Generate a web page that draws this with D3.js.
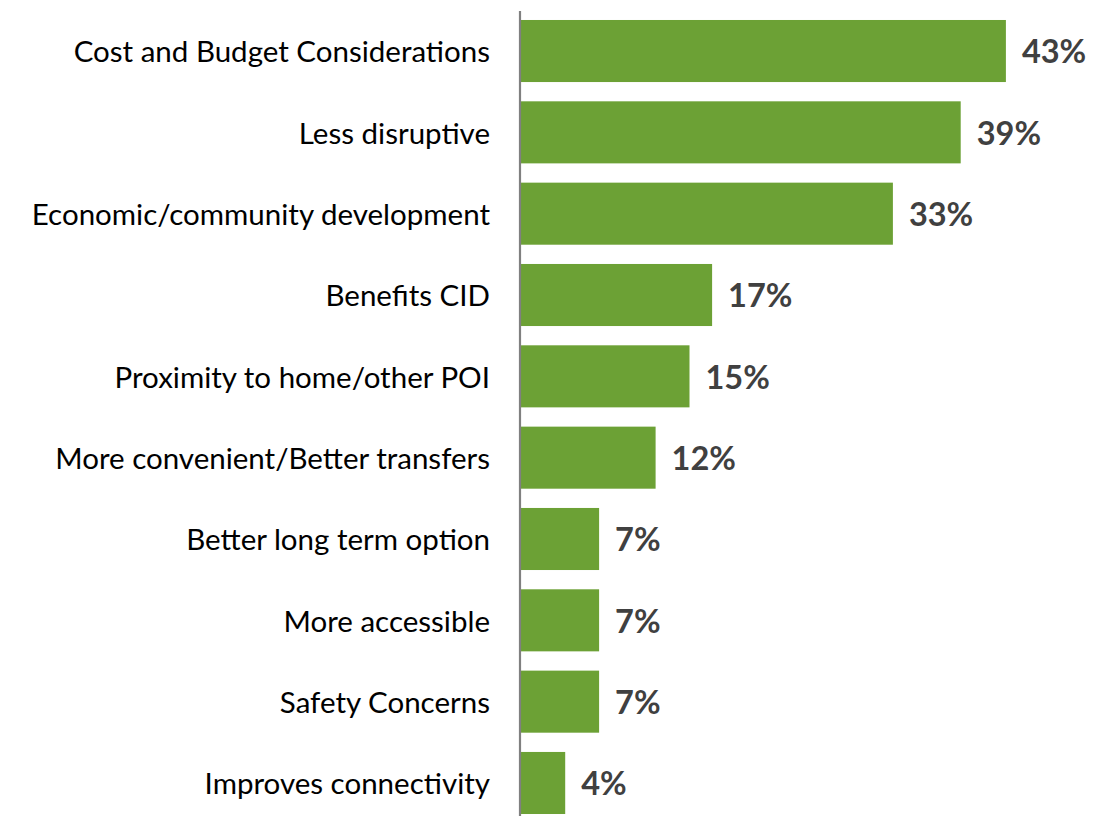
<!DOCTYPE html>
<html>
<head>
<meta charset="utf-8">
<script src="https://cdn.jsdelivr.net/npm/d3@7"></script>
<style>
  html, body { margin: 0; padding: 0; background: #fff; }
  svg { display: block; }
</style>
</head>
<body>
<svg id="chart" width="1111" height="816"></svg>
<script>
// Reasons cited, share of respondents (%)
const categories = [
  "Cost and Budget Considerations",
  "Less disruptive",
  "Economic/community development",
  "Benefits CID",
  "Proximity to home/other POI",
  "More convenient/Better transfers",
  "Better long term option",
  "More accessible",
  "Safety Concerns",
  "Improves connectivity"
];
const values = [43, 39, 33, 17, 15, 12, 7, 7, 7, 4];

const width = 1111, height = 816;
const axisX = 520;
const svg = d3.select("#chart");

const x = d3.scaleLinear().domain([0, 50]).range([axisX, axisX + 565]);

const pad = 0.237;
const y = d3.scaleBand()
  .domain(categories)
  .range([10.35, 823.65])
  .paddingInner(pad)
  .paddingOuter(pad / 2);

// bars
svg.append("g").selectAll("rect")
  .data(values)
  .join("rect")
  .attr("x", x(0))
  .attr("y", (d, i) => y(categories[i]))
  .attr("width", d => x(d) - x(0))
  .attr("height", y.bandwidth())
  .attr("fill", "#6ca135");

// category axis (labels only; the spine is drawn separately)
const axis = d3.axisLeft(y).tickSize(0).tickPadding(30);
const gAxis = svg.append("g")
  .attr("transform", `translate(${axisX},0)`)
  .call(axis);
gAxis.select(".domain").remove();
gAxis.selectAll("text")
  .attr("font-family", "Lato, 'Open Sans', sans-serif")
  .attr("font-size", 29.5)
  .attr("dy", "0.38em")
  .attr("fill", "#000");

svg.append("line")
  .attr("x1", axisX).attr("x2", axisX)
  .attr("y1", 11).attr("y2", height)
  .attr("stroke", "#808080")
  .attr("stroke-width", 2.2);

// value labels
svg.append("g").selectAll("text")
  .data(values)
  .join("text")
  .attr("x", d => x(d) + 16)
  .attr("y", (d, i) => y(categories[i]) + y.bandwidth() / 2)
  .attr("dy", "0.38em")
  .attr("font-family", "Lato, 'Open Sans', sans-serif")
  .attr("font-weight", "bold")
  .attr("font-size", 32.5)
  .attr("fill", "#404040")
  .text(d => d + "%");
</script>
</body>
</html>
